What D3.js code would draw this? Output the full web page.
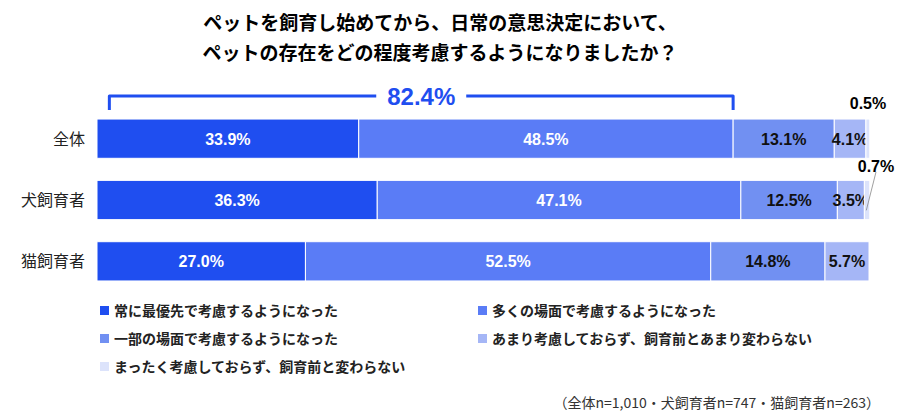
<!DOCTYPE html>
<html><head><meta charset="utf-8">
<script src="https://cdn.jsdelivr.net/npm/d3@7"></script>
<style>body{margin:0;background:#fff}svg{font-family:"Noto Sans CJK JP",sans-serif}</style>
</head><body><div id="c"></div>
<script>
const categories = ["全体", "犬飼育者", "猫飼育者"];
const seriesNames = ["常に最優先で考慮するようになった","多くの場面で考慮するようになった","一部の場面で考慮するようになった","あまり考慮しておらず、飼育前とあまり変わらない","まったく考慮しておらず、飼育前と変わらない"];
const values = [
  [33.9, 48.5, 13.1, 4.1, 0.5],
  [36.3, 47.1, 12.5, 3.5, 0.7],
  [27.0, 52.5, 14.8, 5.7, 0.0]
];
const colors = ["#1f4ef0", "#5a7cf6", "#7190f2", "#a5b6f6", "#dce3fb"];
const bracketLabel = "82.4%";

const svg = d3.select("#c").append("svg").attr("width", 900).attr("height", 420);

svg.append("text").attr("x", 440).attr("y", 30).attr("text-anchor", "middle")
  .attr("font-size", 19).attr("font-weight", "bold").text("ペットを飼育し始めてから、日常の意思決定において、");
svg.append("text").attr("x", 440).attr("y", 60).attr("text-anchor", "middle")
  .attr("font-size", 19).attr("font-weight", "bold").text("ペットの存在をどの程度考慮するようになりましたか？");

const x = d3.scaleLinear().domain([0, 100]).range([97, 869]);
const y = d3.scaleBand().domain(categories).range([108, 292]).paddingInner(0.36).paddingOuter(0.18);

// bracket
const bx0 = x(1.6), bx1 = x(82.4), by = 96;
svg.append("path").attr("d", `M${bx0},110 L${bx0},${by} L${(bx0+bx1)/2-45},${by} M${(bx0+bx1)/2+45},${by} L${bx1},${by} L${bx1},110`)
  .attr("fill", "none").attr("stroke", "#1f4ef0").attr("stroke-width", 3).attr("stroke-linejoin", "round");
svg.append("text").attr("x", (bx0+bx1)/2).attr("y", by + 9).attr("text-anchor", "middle")
  .attr("font-size", 24).attr("font-weight", "bold").attr("fill", "#1f4ef0")
  .attr("font-family", "Liberation Sans, Arial, sans-serif").text(bracketLabel);

categories.forEach((cat, i) => {
  let acc = 0;
  const g = svg.append("g");
  values[i].forEach((v, j) => {
    if (v <= 0) return;
    const x0 = x(acc), x1 = x(acc + v);
    acc += v;
    g.append("rect").attr("x", x0).attr("y", y(cat)).attr("width", x1 - x0).attr("height", y.bandwidth())
      .attr("fill", colors[j]).attr("stroke", "#fff").attr("stroke-width", 1);
    if (v < 1) return;
    g.append("text").attr("x", (x0 + x1) / 2).attr("y", y(cat) + y.bandwidth() / 2 + 6)
      .attr("text-anchor", "middle").attr("font-size", 16).attr("font-weight", "bold")
      .attr("font-family", "Liberation Sans, Arial, sans-serif")
      .attr("fill", j < 2 ? "#fff" : "#111").text(v.toFixed(1) + "%");
  });
  svg.append("text").attr("x", 85).attr("y", y(cat) + y.bandwidth() / 2 + 6).attr("text-anchor", "end")
    .attr("font-size", 16).attr("fill", "#222").text(cat);
});

// small value labels
const small0 = values[0][4], small1 = values[1][4];
svg.append("text").attr("x", 868).attr("y", 109).attr("text-anchor", "middle").attr("font-size", 16)
  .attr("font-weight", "bold").attr("font-family", "Liberation Sans, Arial, sans-serif").text(small0.toFixed(1) + "%");
svg.append("line").attr("x1", x(100 - small1 / 2)).attr("y1", y(categories[1]) + 30).attr("x2", 876).attr("y2", 172)
  .attr("stroke", "#888").attr("stroke-width", 0.8);
svg.append("text").attr("x", 876).attr("y", 172).attr("text-anchor", "middle").attr("font-size", 16)
  .attr("font-weight", "bold").attr("font-family", "Liberation Sans, Arial, sans-serif").text(small1.toFixed(1) + "%");

// legend
seriesNames.forEach((n, i) => {
  const lx = i % 2 === 0 ? 100 : 478, ly = 311 + Math.floor(i / 2) * 28;
  svg.append("rect").attr("x", lx).attr("y", ly - 5).attr("width", 9).attr("height", 9).attr("fill", colors[i]);
  svg.append("text").attr("x", lx + 14).attr("y", ly + 5).attr("font-size", 14).attr("font-weight", "bold")
    .attr("fill", "#222").text(n);
});
svg.append("text").attr("x", 880).attr("y", 408).attr("text-anchor", "end").attr("font-size", 14)
  .attr("fill", "#333").text("（全体n=1,010・犬飼育者n=747・猫飼育者n=263）");
</script></body></html>
